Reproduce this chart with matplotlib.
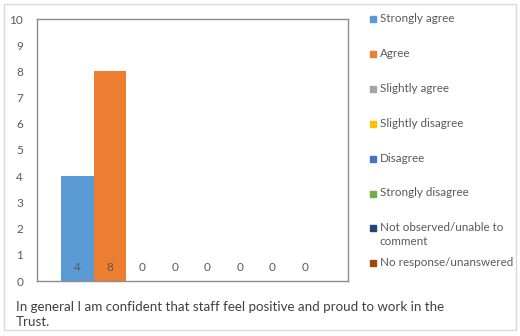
import matplotlib.pyplot as plt
from matplotlib.patches import Rectangle

# survey answers for one question
categories = ["Strongly agree", "Agree", "Slightly agree", "Slightly disagree",
              "Disagree", "Strongly disagree", "Not observed/unable to\ncomment",
              "No response/unanswered"]
counts = [4, 8, 0, 0, 0, 0, 0, 0]
colours = ["#5B9BD5", "#ED7D31", "#A5A5A5", "#FFC000",
           "#4472C4", "#70AD47", "#264478", "#9E480E"]
yticks = list(range(0, 11))
question = "In general I am confident that staff feel positive and proud to work in the\nTrust."

plt.rcParams['font.family'] = ['Lato', 'DejaVu Sans']
txt_col = "#595959"

fig = plt.figure(figsize=(5.2, 3.36), dpi=100)
W, H = 520, 336
ax = fig.add_axes([37 / W, 1 - 281 / H, 311 / W, 262 / H])

x = list(range(len(counts)))
ax.bar(x, counts, width=1.0, color=colours)
for xi, v in zip(x, counts):
    ax.text(xi, 0.5, str(v), ha="center", va="center", fontsize=8.5, color=txt_col)

ax.set_xlim(-1.24, 8.33)
ax.set_ylim(0, 10)
ax.set_yticks(yticks)
ax.set_xticks([])
ax.tick_params(axis="y", length=0, labelsize=8.5, labelcolor=txt_col, pad=10)
for s in ax.spines.values():
    s.set_color("#8c8c8c")
    s.set_linewidth(1.0)

# legend drawn by hand so the entries keep the even spacing
for i, (lab, c) in enumerate(zip(categories, colours)):
    ytop = 19 + 34.9 * i
    fig.patches.append(Rectangle((370 / W, 1 - (ytop + 3) / H), 6 / W, 6 / H,
                                 transform=fig.transFigure, color=c))
    fig.text(380 / W, 1 - (ytop - 6) / H, lab, ha="left", va="top",
             fontsize=8.4, color=txt_col, linespacing=1.25)

fig.text(16 / W, 1 - 301 / H, question, ha="left", va="top", fontsize=9.6,
         color="#404040", linespacing=1.3)

# light outer border
fig.patches.append(Rectangle((4 / W, 1 - 330 / H), 512 / W, 326 / H,
                             transform=fig.transFigure, fill=False,
                             edgecolor="#d9d9d9", linewidth=1.0))

plt.savefig("out.png", dpi=100)
